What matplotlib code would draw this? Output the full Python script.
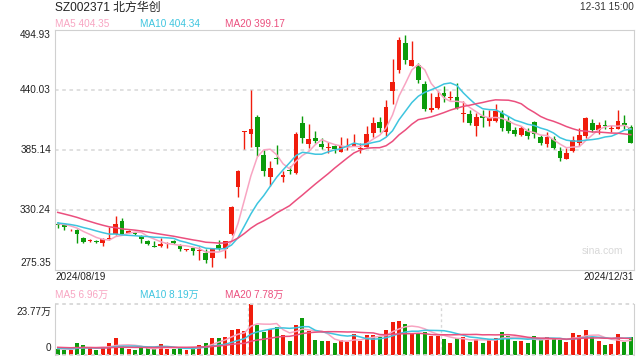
import numpy as np
import pandas as pd
import matplotlib
matplotlib.use('Agg')
import matplotlib.pyplot as plt

# 日K 数据 (2024/08/19 - 2024/12/31)
opens = [317.0, 317.4, 311.5, 312.0, 304.9, 302.3, 301.6, 300.3, 303.7, 308.3,
         320.2, 309.5, 309.2, 306.5, 301.9, 297.0, 297.3, 299.4, 301.9, 297.6,
         293.4, 295.8, 292.7, 290.6, 286.6, 298.2, 295.0, 308.0, 351.6, 401.8,
         399.8, 415.3, 380.6, 360.7, 377.8, 360.7, 366.3, 364.4, 409.6, 390.4,
         396.4, 390.6, 387.4, 388.8, 383.6, 387.9, 389.1, 386.4, 388.2, 401.0,
         411.0, 401.9, 439.4, 457.9, 482.8, 462.3, 462.9, 445.5, 421.8, 423.9,
         437.3, 432.9, 433.4, 417.8, 417.8, 407.1, 416.3, 412.0, 412.0, 419.3,
         411.7, 403.4, 398.9, 402.1, 411.0, 396.8, 390.2, 395.2, 384.2, 377.2,
         384.5, 391.3, 397.9, 409.9, 403.4, 407.6, 404.1, 404.5, 410.1, 406.2]
closes = [316.1, 315.0, 312.2, 308.3, 301.2, 303.0, 301.0, 303.4, 304.9, 317.4,
          308.3, 311.0, 308.6, 303.4, 298.9, 296.4, 298.9, 300.1, 299.8, 294.3,
          294.0, 293.0, 293.4, 284.2, 294.3, 294.3, 301.9, 333.3, 365.9, 402.3,
          403.9, 388.2, 366.2, 368.7, 377.1, 362.3, 365.7, 399.8, 395.9, 395.2,
          393.7, 388.2, 387.9, 385.8, 388.8, 388.4, 391.3, 387.0, 399.8, 409.6,
          405.6, 424.2, 447.1, 485.8, 467.5, 467.5, 449.2, 422.7, 423.3, 433.4,
          435.0, 433.5, 423.3, 418.4, 410.1, 415.1, 414.2, 414.7, 420.8, 405.6,
          402.5, 399.8, 405.6, 398.0, 399.5, 391.3, 397.3, 386.7, 378.1, 382.7,
          394.3, 399.3, 414.0, 403.4, 408.0, 406.8, 404.6, 411.7, 408.0, 391.3]
highs = [319.3, 317.9, 312.9, 312.9, 305.8, 303.7, 302.8, 304.2, 314.7, 324.8,
         322.7, 312.0, 310.1, 307.4, 302.8, 301.9, 304.9, 301.0, 302.8, 298.7,
         294.6, 296.7, 296.7, 294.3, 294.6, 302.8, 302.3, 333.9, 366.4, 402.5,
         440.0, 417.6, 385.2, 375.1, 389.7, 366.2, 370.5, 401.9, 416.3, 408.7,
         402.5, 395.9, 392.7, 389.7, 396.8, 395.9, 399.8, 391.8, 407.1, 415.1,
         415.6, 430.9, 468.2, 488.3, 490.7, 484.9, 464.5, 448.6, 437.6, 439.2,
         443.7, 439.4, 446.2, 430.3, 421.8, 419.0, 421.8, 421.8, 427.0, 421.8,
         416.3, 406.5, 407.1, 405.3, 411.7, 398.9, 401.6, 398.0, 388.2, 387.3,
         398.0, 405.7, 415.6, 413.5, 411.0, 412.6, 408.0, 421.8, 416.9, 408.0]
lows = [313.8, 312.0, 311.0, 300.3, 300.3, 301.4, 299.6, 297.3, 302.8, 307.4,
        307.4, 308.8, 307.4, 300.1, 298.2, 296.1, 296.7, 295.2, 299.1, 293.0,
        292.7, 289.1, 284.5, 281.5, 278.4, 293.6, 286.6, 307.4, 342.4, 386.1,
        388.2, 379.9, 360.9, 352.2, 372.3, 356.1, 362.9, 363.6, 391.3, 387.2,
        391.3, 385.8, 382.7, 382.1, 383.3, 385.2, 388.4, 382.7, 387.9, 397.3,
        401.9, 397.9, 427.2, 455.9, 463.6, 462.0, 446.2, 420.8, 420.2, 423.1,
        428.6, 430.9, 422.7, 411.0, 408.3, 397.9, 406.5, 407.1, 411.2, 402.5,
        400.4, 397.9, 397.9, 395.2, 396.1, 389.7, 388.2, 385.8, 375.1, 376.5,
        383.6, 388.8, 396.4, 401.9, 399.8, 403.9, 401.9, 404.3, 404.3, 391.1]
# 成交量 (万手)
volumes = [2.8, 2.3, 2.3, 5.5, 4.7, 3.1, 2.3, 3.4, 5.5, 7.8,
           4.4, 2.8, 2.3, 3.4, 3.1, 2.8, 5.2, 2.8, 2.8, 3.4,
           2.3, 3.6, 4.7, 5.8, 8.1, 8.1, 8.6, 11.7, 12.2, 11.4,
           23.77, 14.1, 10.9, 12.0, 13.0, 9.4, 6.6, 14.1, 17.5, 11.3,
           7.0, 6.6, 6.6, 5.8, 7.0, 6.2, 9.8, 6.6, 9.4, 9.4,
           8.6, 11.7, 15.5, 15.9, 14.5, 10.2, 9.8, 10.9, 8.9, 8.9,
           7.5, 5.8, 7.8, 8.3, 6.2, 7.4, 5.8, 7.4, 8.1, 10.9,
           8.9, 6.7, 6.7, 5.8, 8.9, 7.4, 8.3, 7.5, 7.0, 6.2,
           10.5, 9.4, 11.7, 8.6, 6.6, 4.7, 5.2, 9.8, 6.2, 8.3]
# 区间之前的收盘价/成交量 (用于均线起点, 估计值)
prev_closes = [344, 342, 341, 340, 339, 337, 336, 334, 333, 331,
               322, 320, 319, 318, 317, 318, 319, 318, 317]
prev_volumes = [4.5, 4.2, 4.0, 4.4, 3.8, 4.1, 3.9, 4.3, 4.0, 3.6,
                3.4, 3.2, 3.5, 3.0, 3.3, 3.1, 2.9, 3.2, 3.0]

title = 'SZ002371 北方华创'
time_label = '12-31 15:00'
start_label = '2024/08/19'
end_label = '2024/12/31'
price_ticks = [275.35, 330.24, 385.14, 440.03, 494.93]
vol_max = 23.77
ma_periods = [5, 10, 20]
ma_price_labels = [404.35, 404.34, 399.17]
ma_vol_labels = [6.96, 8.19, 7.78]

RED = '#f01c0c'
GREEN = '#0b9b0b'
MA_COLORS = {5: '#f8a5c2', 10: '#3ec5df', 20: '#eb4f7e'}
FONT = ['Liberation Sans', 'Noto Sans CJK SC', 'DejaVu Sans']
plt.rcParams['font.family'] = FONT

n = len(closes)
x = np.arange(n)
o = np.array(opens)
c = np.array(closes)
up = c >= o
colors = [RED if u else GREEN for u in up]

all_close = pd.Series(prev_closes + closes)
all_vol = pd.Series(prev_volumes + volumes)
k = len(prev_closes)

fig = plt.figure(figsize=(6.4, 3.6), dpi=100)
ax = fig.add_axes([54.5 / 640, 1 - 270 / 360, 579.5 / 640, 240 / 360])
axv = fig.add_axes([54.5 / 640, 1 - 355 / 360, 579.5 / 640, 50.7 / 360])

# 价格
ax.vlines(x, lows, highs, colors=colors, linewidth=1)
body = np.maximum(np.abs(c - o), 0.8)
ax.bar(x, body, bottom=np.minimum(o, c), width=0.74, color=colors, linewidth=0)
for p in ma_periods:
    ma = all_close.rolling(p).mean().values[k:]
    ax.plot(x, ma, color=MA_COLORS[p], linewidth=1.1)
ax.set_xlim(-0.5, n - 0.5)
ax.set_ylim(price_ticks[0], price_ticks[-1])
for t in price_ticks[1:-1]:
    ax.axhline(t, color='#dddddd', linewidth=1.3, linestyle=(0, (2, 2)), zorder=0)
ax.set_xticks([])
ax.set_yticks([])
for s in ax.spines.values():
    s.set_color('#d0d0d0')
ax.text(0.945, 0.08, 'sina.com', transform=ax.transAxes, color='#d8d8d8',
        fontsize=7.5, ha='center', va='center')

# 成交量
axv.bar(x, volumes, width=0.62, color=colors, linewidth=0)
for p in ma_periods:
    ma = all_vol.rolling(p).mean().values[k:]
    axv.plot(x, ma, color=MA_COLORS[p], linewidth=1.1)
axv.set_xlim(-0.5, n - 0.5)
axv.set_ylim(0, vol_max)
axv.set_xticks([])
axv.set_yticks([])
for side in ('top', 'bottom'):
    axv.spines[side].set_visible(False)
for side in ('left', 'right'):
    axv.spines[side].set_color('#d0d0d0')
for t in (0, vol_max):
    axv.axhline(t, color='#d8d8d8', linewidth=1.3, linestyle=(0, (2, 2)), clip_on=False)
for xv in (-0.5 + n / 3, -0.5 + 2 * n / 3):
    axv.axvline(xv, color='#d8d8d8', linewidth=1, linestyle=(0, (2, 2)), zorder=0)

# 文字
fs = 7.2
fig.text(55 / 640, 1 - 7.5 / 360, title, fontsize=8.6, va='center', ha='left', color='#222222')
fig.text(634 / 640, 1 - 7.5 / 360, time_label, fontsize=fs, va='center', ha='right', color='#333333')

for xp, p, mv, vv in zip((55, 140, 225), ma_periods, ma_price_labels, ma_vol_labels):
    fig.text(xp / 640, 1 - 24 / 360, 'MA%d %.2f' % (p, mv), fontsize=fs,
             color=MA_COLORS[p], va='center', ha='left')
    fig.text(xp / 640, 1 - 295 / 360, 'MA%d %.2f万' % (p, vv), fontsize=fs,
             color=MA_COLORS[p], va='center', ha='left')

label_y = [262.7, 210, 150, 90, 35]
for t, yy in zip(price_ticks, label_y):
    fig.text(51 / 640, 1 - yy / 360, '%.2f' % t, fontsize=fs, ha='right', va='center', color='#222222')
fig.text(51 / 640, 1 - 312 / 360, '%.2f万' % vol_max, fontsize=fs, ha='right', va='center', color='#222222')
fig.text(51 / 640, 1 - 348 / 360, '0', fontsize=fs, ha='right', va='center', color='#222222')

fig.text(55 / 640, 1 - 277 / 360, start_label, fontsize=fs, ha='left', va='center', color='#222222')
fig.text(634 / 640, 1 - 277 / 360, end_label, fontsize=fs, ha='right', va='center', color='#222222')

fig.savefig('out.png', dpi=100)
